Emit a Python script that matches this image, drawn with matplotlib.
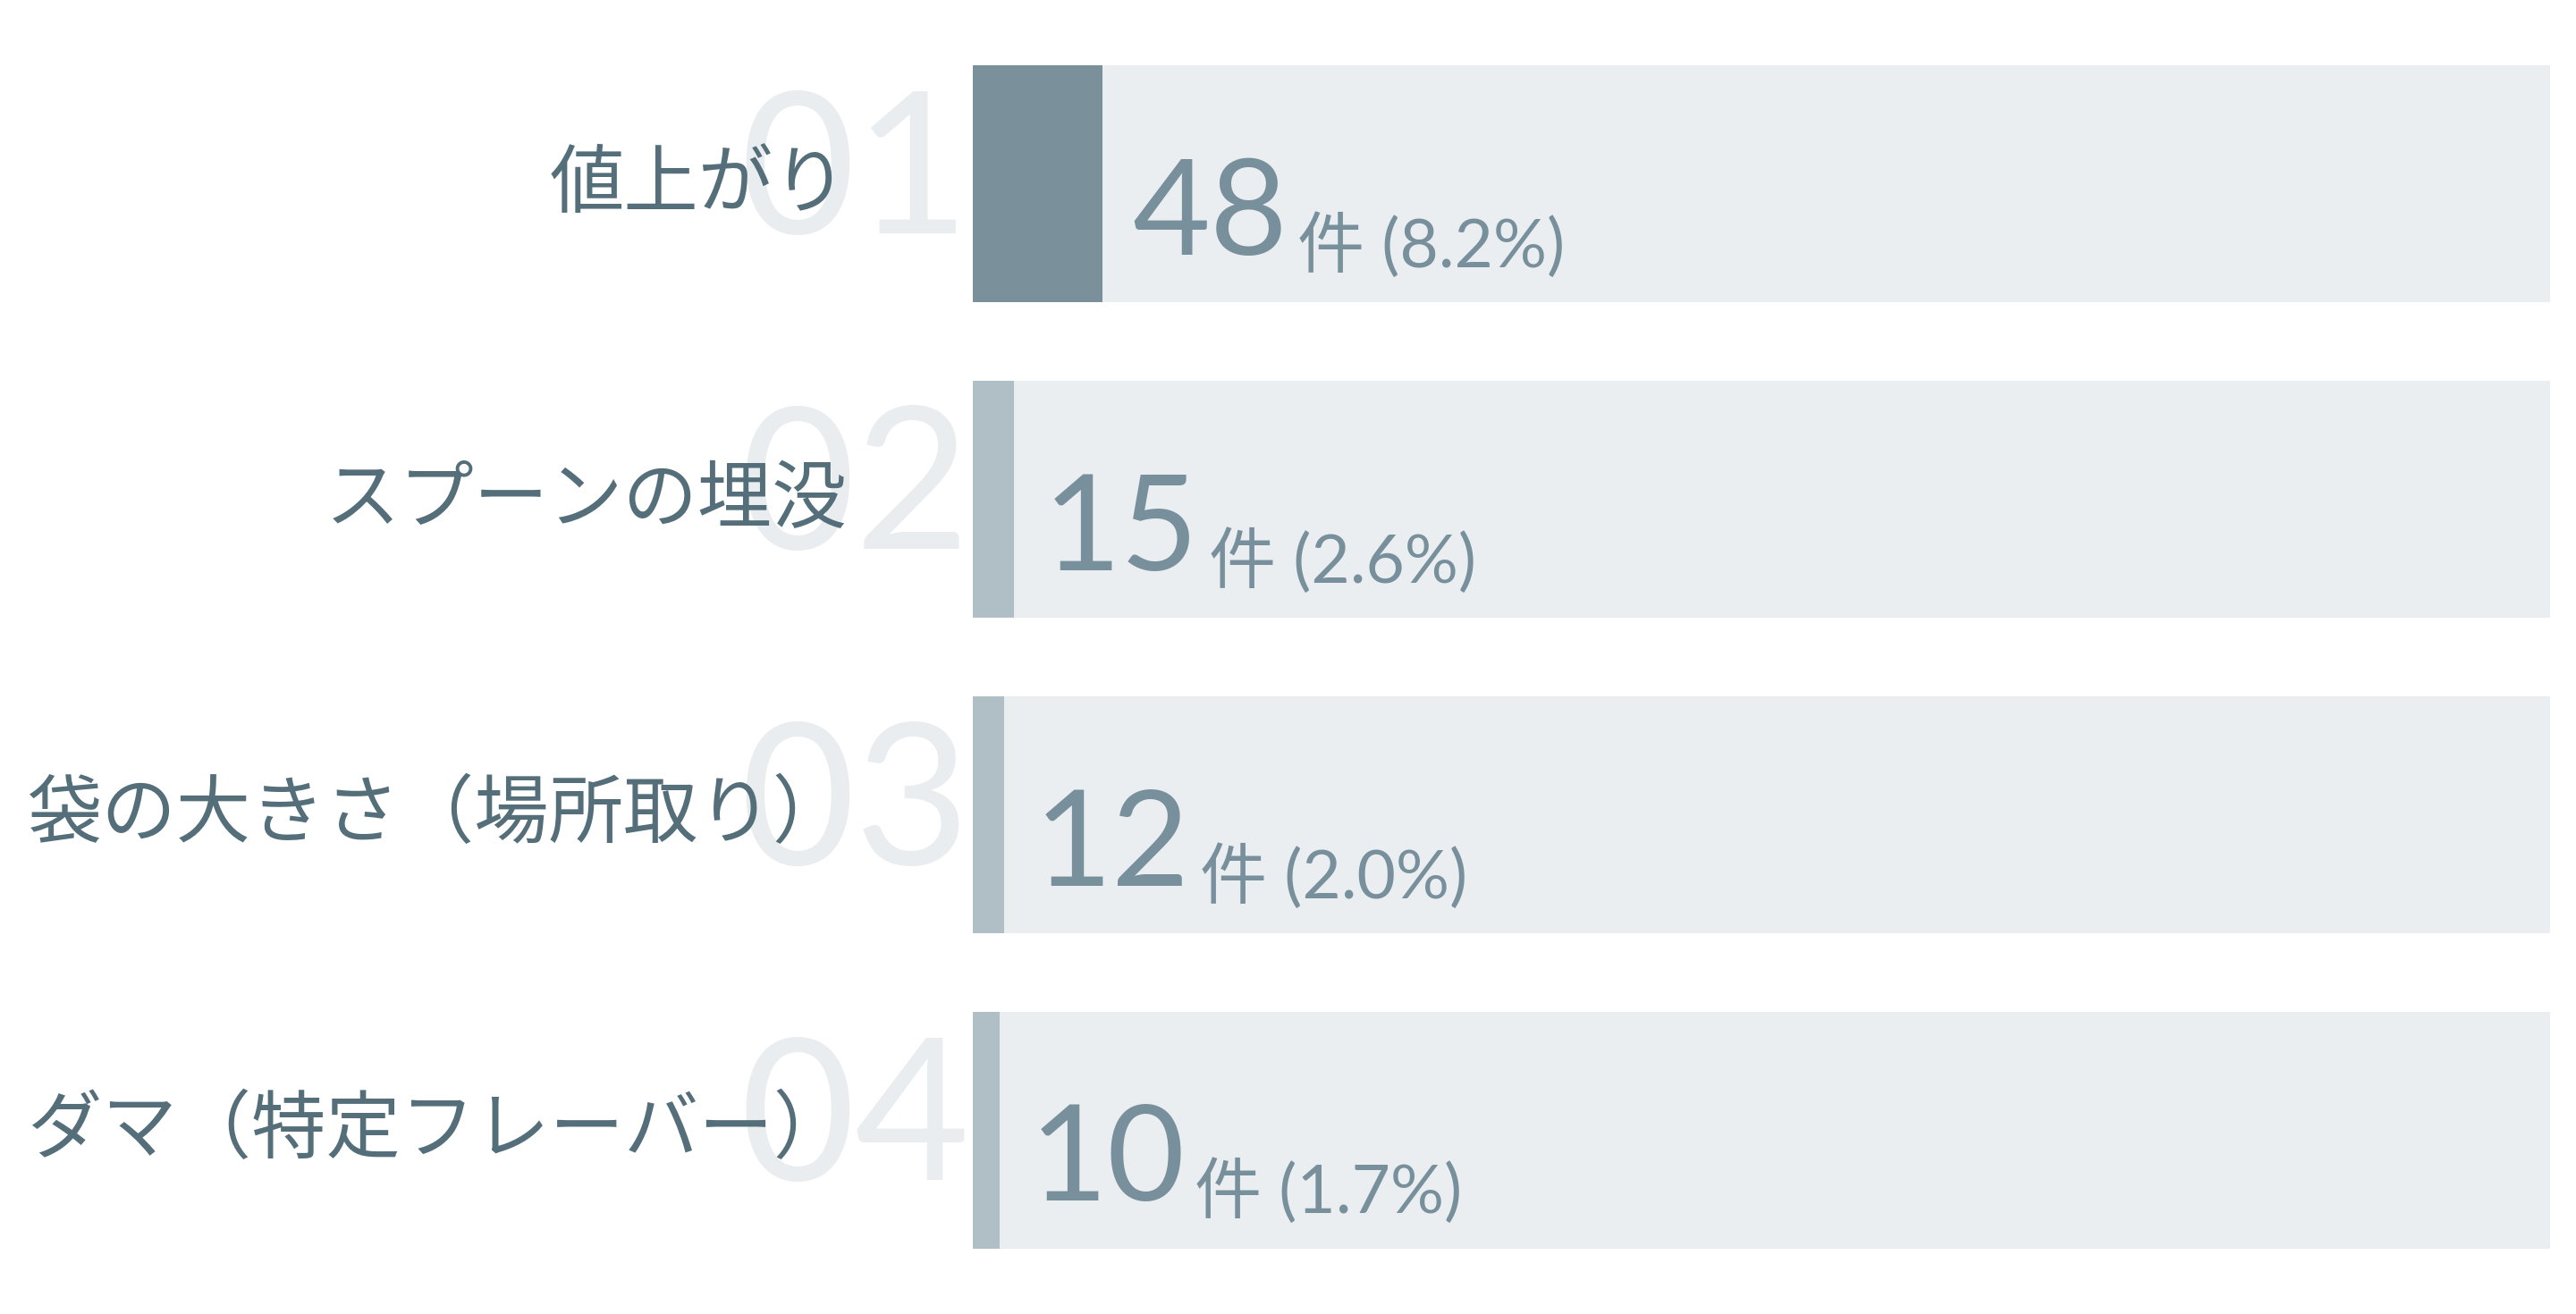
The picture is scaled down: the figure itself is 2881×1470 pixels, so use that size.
import matplotlib
matplotlib.use("Agg")
import matplotlib.pyplot as plt
import numpy as np

# ---- data ----
categories = ["値上がり", "スプーンの埋没", "袋の大きさ（場所取り）", "ダマ（特定フレーバー）"]
ranks = ["01", "02", "03", "04"]
counts = [48, 15, 12, 10]
percents = [8.2, 2.6, 2.0, 1.7]
unit = "件"

# ---- style ----
track_color = "#EAEEF1"
top_color = "#7A909B"
other_color = "#B0BEC5"
ghost_color = "#E9EDF0"
label_color = "#546E7A"
value_color = "#78909C"

fig = plt.figure(figsize=(28.81, 14.70), dpi=100)
ax = fig.add_axes([1088 / 2881, 0, 1764 / 2881, 1])
ax.set_xlim(0, 100)
ax.set_ylim(3.583, -0.583)
ax.axis("off")

pos = np.arange(len(categories))
ax.barh(pos, [100] * len(pos), height=0.75, color=track_color, zorder=1)
bar_colors = [top_color] + [other_color] * (len(pos) - 1)
ax.barh(pos, percents, height=0.75, color=bar_colors, zorder=2)

for i, (cat, rk, c, p) in enumerate(zip(categories, ranks, counts, percents)):
    # ghost rank number
    ax.annotate(rk, xy=(0, i), xycoords="data", xytext=(-2, -40),
                textcoords="offset points", ha="right", va="baseline",
                fontsize=160, fontweight="normal", family=["Lato", "DejaVu Sans"],
                color=ghost_color, zorder=3, annotation_clip=False)
    # category label
    ax.annotate(cat, xy=(0, i), xycoords="data", xytext=(-101, -18),
                textcoords="offset points", ha="right", va="baseline",
                fontsize=60, family=["Noto Sans CJK JP", "DejaVu Sans"],
                color=label_color, zorder=4, annotation_clip=False)
    # big count
    big = ax.annotate(f"{c}", xy=(p, i), xycoords="data", xytext=(24, -57),
                      textcoords="offset points", ha="left", va="baseline",
                      fontsize=108, family=["Lato", "DejaVu Sans"],
                      color=value_color, zorder=5)
    # unit + percent
    ax.annotate(f"{unit} ({p:.1f}%)", xy=(1, i), xycoords=(big, "data"),
                xytext=(8, -67), textcoords="offset points", ha="left",
                va="baseline", fontsize=54,
                family=["Lato", "Noto Sans CJK JP", "DejaVu Sans"],
                color=value_color, zorder=5)

fig.savefig("out.png", dpi=100, facecolor="white")
